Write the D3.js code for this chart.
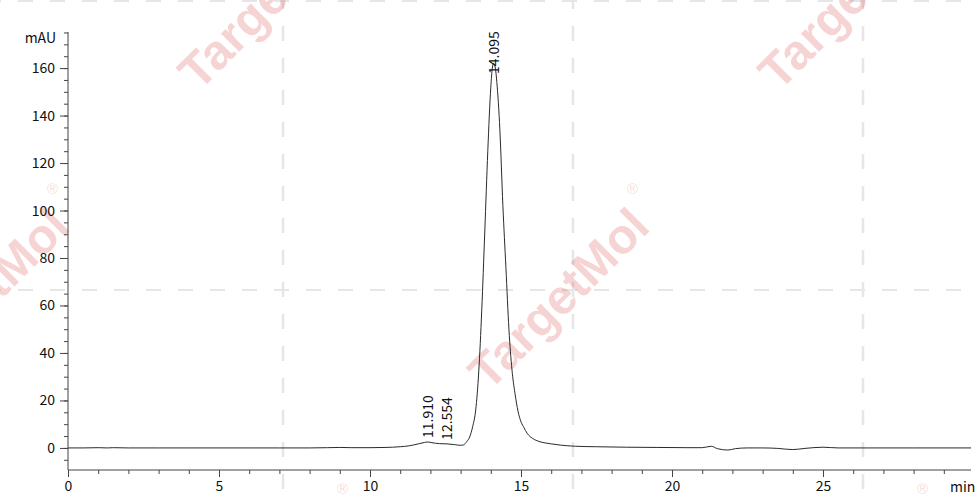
<!DOCTYPE html>
<html>
<head>
<meta charset="utf-8">
<script src="https://cdn.jsdelivr.net/npm/d3@7"></script>
<style>
  body { margin: 0; background: #fff; }
  svg { display: block; }
</style>
</head>
<body>
<div id="chart"></div>
<script>
// retention time (min) and absorbance (mAU)
const times = [0.0, 0.5, 1.0, 1.3, 1.5, 2.0, 3.0, 4.0, 5.0, 6.0, 7.0, 8.0, 8.6, 9.0, 9.4, 10.0, 10.5,
  11.0, 11.3, 11.6, 11.8, 11.91, 12.05, 12.3, 12.55, 12.8, 13.0, 13.1, 13.2, 13.3, 13.4, 13.5, 13.6,
  13.7, 13.8, 13.9, 14.0, 14.05, 14.095, 14.15, 14.2, 14.3, 14.4, 14.5, 14.6, 14.7, 14.8, 14.9, 15.0,
  15.1, 15.2, 15.3, 15.45, 15.6, 15.8, 16.0, 16.3, 16.8, 17.5, 18.5, 19.5, 20.5, 21.0, 21.3, 21.5,
  21.85, 22.1, 22.5, 23.0, 23.5, 24.0, 24.4, 25.0, 25.5, 26.5, 28.0, 29.9];
const mAU = [0.0, 0.0, 0.1, 0.0, 0.1, 0.0, 0.0, 0.0, 0.0, 0.0, 0.0, 0.0, 0.1, 0.2, 0.1, 0.1, 0.2,
  0.5, 0.9, 1.7, 2.3, 2.5, 2.2, 1.8, 1.7, 1.4, 1.1, 1.3, 2.6, 4.6, 9.0, 16, 32,
  58, 91, 125, 152, 160, 162, 160, 154, 134, 102, 76, 50, 33, 23, 15.5, 11,
  8.5, 6.2, 4.8, 3.5, 2.7, 2.1, 1.7, 1.2, 0.7, 0.5, 0.3, 0.2, 0.1, 0.1, 0.7, -0.3,
  -0.9, -0.3, 0.0, 0.0, -0.2, -0.7, -0.2, 0.3, 0.0, 0.0, 0.0, 0.0];

// integrated peaks
const peakTimes = [11.910, 12.554, 14.095];
const peakHeights = [2.5, 1.7, 162];

const xTicks = [0, 5, 10, 15, 20, 25];
const yTicks = [0, 20, 40, 60, 80, 100, 120, 140, 160];

const W = 976, H = 504;
const font = "'Noto Sans CJK SC', 'Noto Sans', sans-serif";

const svg = d3.select("#chart").append("svg")
  .attr("width", W).attr("height", H);

// watermark layer (grid + logo text)
const wm = svg.append("g");
[-7, 283, 573, 863].forEach(gx => {
  wm.append("line").attr("x1", gx).attr("x2", gx).attr("y1", -6).attr("y2", H)
    .attr("stroke", "#e6e6e6").attr("stroke-width", 2.5).attr("stroke-dasharray", "15,17");
});
[1, 290].forEach(gy => {
  wm.append("line").attr("x1", -14).attr("x2", W).attr("y1", gy).attr("y2", gy)
    .attr("stroke", "#e6e6e6").attr("stroke-width", 2).attr("stroke-dasharray", "15,17");
});
const anchors = [];
for (let r = -1; r <= 1; r++) {
  for (let c = -2; c <= 2; c++) {
    const ax = 489 + c * 580 + (r % 2 ? 290 : 0), ay = 392 + r * 300;
    if (ax + 260 > 0 && ax < W && ay > 0 && ay - 260 < H) anchors.push([ax, ay]);
  }
}
anchors.forEach(([ax, ay]) => {
  const g = wm.append("g").attr("transform", `translate(${ax},${ay}) rotate(-45)`);
  g.append("text").attr("x", 0).attr("y", 0)
    .attr("font-family", "'Liberation Sans', Arial, sans-serif")
    .attr("font-weight", "bold").attr("font-size", 49)
    .attr("fill", "#d42a2a").attr("fill-opacity", 0.2)
    .text("TargetMol");
  g.append("text").attr("x", 238).attr("y", -36)
    .attr("font-family", "'Liberation Sans', Arial, sans-serif")
    .attr("font-size", 15)
    .attr("fill", "#d42a2a").attr("fill-opacity", 0.2)
    .attr("transform", "rotate(45,245,-40)")
    .text("®");
});

// scales
const x = d3.scaleLinear().domain([0, 29.9]).range([68, 971]);
const y = d3.scaleLinear().domain([-9.3, 175.2]).range([470, 32]);

const axisColor = "#454545";

// x axis
const gx = svg.append("g").attr("transform", `translate(0,${y.range()[0]})`);
gx.call(d3.axisBottom(x).tickValues(d3.range(0, 30, 1)).tickSize(4).tickFormat(""));
gx.call(g => g.selectAll(".tick line").attr("stroke", axisColor));
gx.select(".domain").attr("stroke", axisColor).attr("d", `M${x.range()[0]},0H${x.range()[1]}`);
const gxMajor = svg.append("g").attr("transform", `translate(0,${y.range()[0]})`)
  .call(d3.axisBottom(x).tickValues(xTicks).tickSize(7).tickPadding(4).tickFormat(d3.format("d")));
gxMajor.select(".domain").remove();
gxMajor.selectAll(".tick line").attr("stroke", axisColor);
gxMajor.selectAll("text").attr("font-family", font).attr("font-size", 14).attr("fill", "#111");

// y axis
const gy = svg.append("g").attr("transform", `translate(${x.range()[0]},0)`);
gy.call(d3.axisLeft(y).tickValues(d3.range(-5, 176, 5)).tickSize(4).tickFormat(""));
gy.selectAll(".tick line").attr("stroke", axisColor);
gy.select(".domain").attr("stroke", axisColor).attr("d", `M0,${y.range()[0]}V${y.range()[1]}`);
const gyMajor = svg.append("g").attr("transform", `translate(${x.range()[0]},0)`)
  .call(d3.axisLeft(y).tickValues(yTicks).tickSize(8).tickPadding(5).tickFormat(d3.format("d")));
gyMajor.select(".domain").remove();
gyMajor.selectAll(".tick line").attr("stroke", axisColor);
gyMajor.selectAll("text").attr("font-family", font).attr("font-size", 14).attr("fill", "#111");

// axis units
svg.append("text").attr("x", 56).attr("y", 43).attr("text-anchor", "end")
  .attr("font-family", font).attr("font-size", 14).attr("fill", "#111").text("mAU");
svg.append("text").attr("x", 950).attr("y", 492)
  .attr("font-family", font).attr("font-size", 14).attr("fill", "#111").text("min");

// trace
const pts = times.map((t, i) => [t, mAU[i]]);
svg.append("path")
  .datum(pts)
  .attr("fill", "none")
  .attr("stroke", "#2a2a2a")
  .attr("stroke-width", 1)
  .attr("d", d3.line().x(d => x(d[0])).y(d => y(d[1])).curve(d3.curveMonotoneX));

// peak labels, kept inside the plot area
const labelLen = 42;
peakTimes.forEach((t, i) => {
  const ly = Math.max(y(peakHeights[i]) - 4, y.range()[1] + labelLen);
  svg.append("text")
    .attr("transform", `translate(${x(t)},${ly}) rotate(-90)`)
    .attr("dy", "0.35em")
    .attr("font-family", font).attr("font-size", 14).attr("fill", "#111")
    .text(d3.format(".3f")(t));
});
</script>
</body>
</html>
